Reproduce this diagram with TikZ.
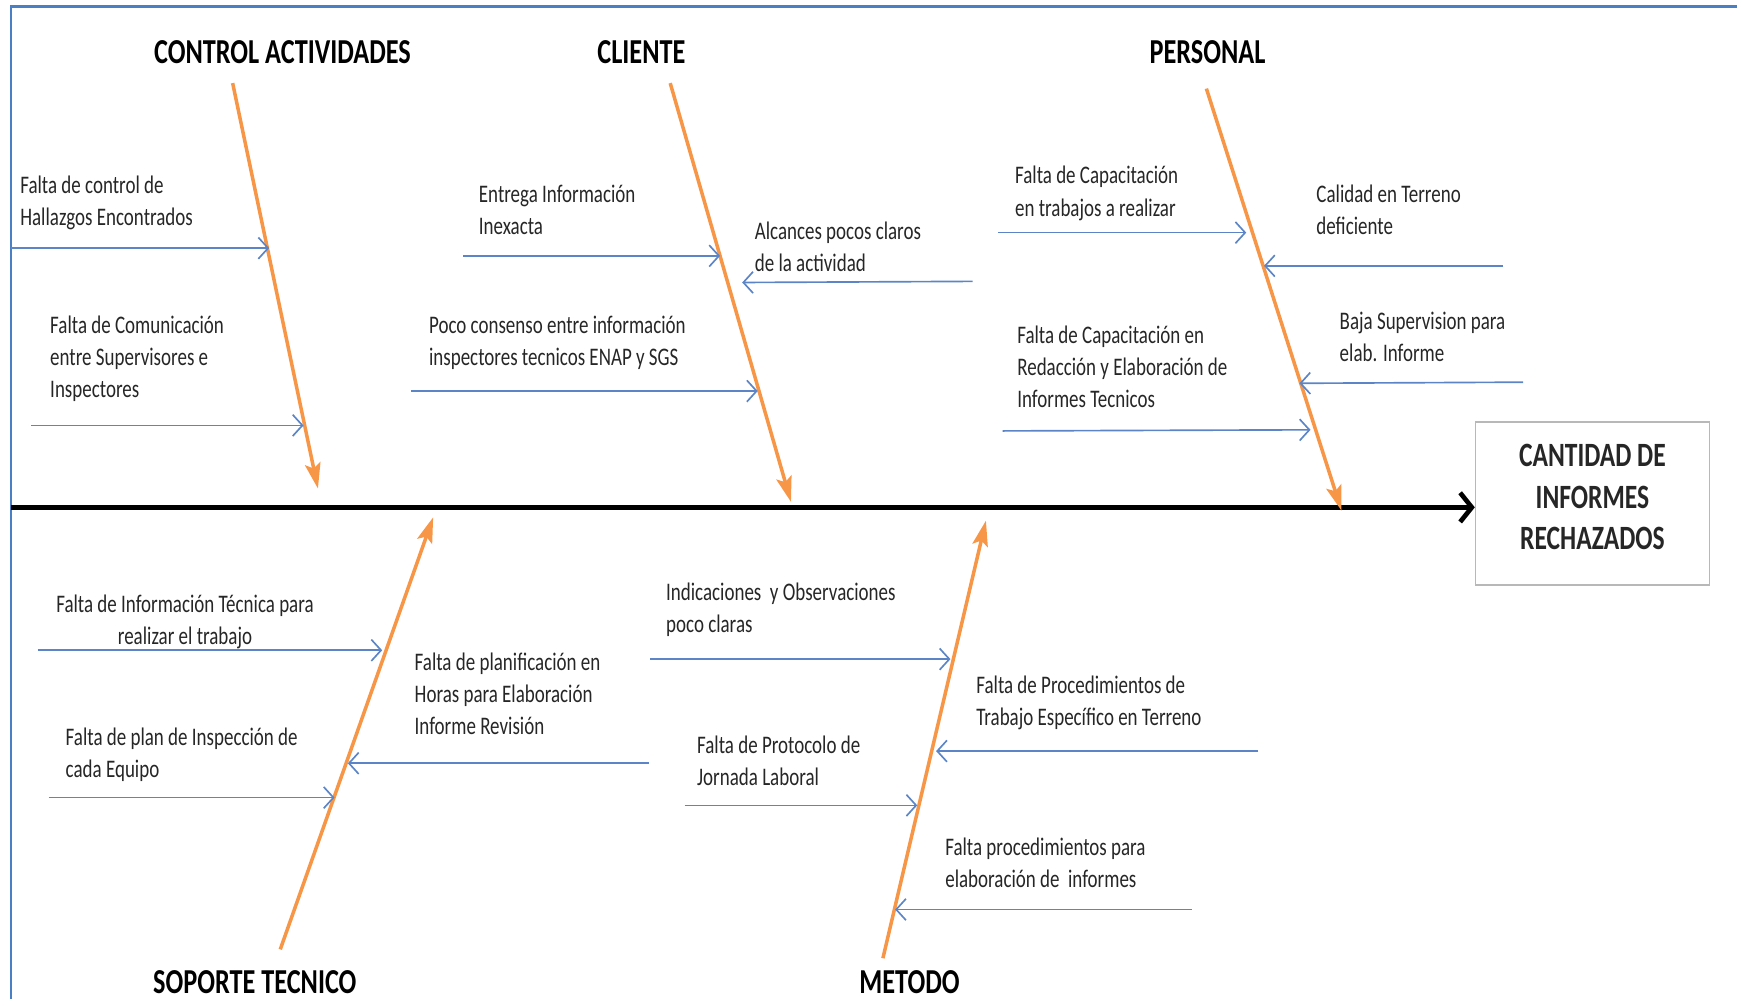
\documentclass[tikz,border=0pt]{standalone}
\usepackage{fontspec}
\setmainfont{Carlito}[FakeStretch=0.75]
\usetikzlibrary{arrows.meta}
\definecolor{bone}{HTML}{F79646}
\definecolor{cause}{HTML}{5B85C6}
\definecolor{frameblue}{HTML}{4A7EC5}
\definecolor{txt}{HTML}{262626}
\tikzset{
  bonearrow/.style={draw=bone, line width=1.8pt, -{Stealth[length=13pt,width=8pt,inset=2.5pt]}},
  causearrow/.style={draw=cause, line width=0.85pt, -{Straight Barb[length=5pt,width=11pt]}},
  spinearrow/.style={draw=black, line width=2.4pt, -{Straight Barb[length=6pt,width=15pt]}},
  lbl/.style={inner sep=0pt, align=left, anchor=base west, text=txt, font=\fontsize{13}{16.5}\selectfont},
  cat/.style={inner sep=0pt, anchor=base, text=black, font=\fontsize{18}{22}\selectfont\bfseries},
  effectbox/.style={draw=black!28, line width=0.8pt, minimum width=4.22cm, minimum height=2.94cm, inner sep=0pt},
  framestyle/.style={draw=frameblue, line width=1.2pt},
}
\begin{document}
\begin{tikzpicture}[x=0.02cm,y=-0.02cm]
\useasboundingbox (0,0) rectangle (1568,902);
% frame
\coordinate (fbl) at (10,902);
\coordinate (ftl) at (10,6);
\coordinate (ftr) at (1568,6);
\draw[framestyle] (fbl) -- (ftl) -- (ftr);

% effect box
\node[effectbox] (effect) at (1437.5,454.5) {};
\node[inner sep=0pt, anchor=base, align=center, font=\fontsize{17.5}{21.3}\selectfont\bfseries, text=txt] (effecttxt) at (1437.5,496) {CANTIDAD DE\\INFORMES\\RECHAZADOS};

% spine
\coordinate (spL) at (10,458);
\draw[spinearrow] (spL) -- (spL -| effect.west);

% category titles
\node[cat] (tCA) at (255,57) {CONTROL ACTIVIDADES};
\node[cat] (tCL) at (579,57) {CLIENTE};
\node[cat] (tPE) at (1090,57) {PERSONAL};
\node[cat] (tST) at (230,897) {SOPORTE TECNICO};
\node[cat] (tME) at (821,897) {METODO};

% bones
\coordinate (bCAs) at (210,75);   \coordinate (bCAe) at (287,441);
\coordinate (bCLs) at (605,75);   \coordinate (bCLe) at (714,453);
\coordinate (bPEs) at (1089,80);  \coordinate (bPEe) at (1211,461);
\coordinate (bSTs) at (253,857);  \coordinate (bSTe) at (391,467);
\coordinate (bMEs) at (797,865);  \coordinate (bMEe) at (890,470);
\draw[bonearrow] (bCAs) -- (bCAe);
\draw[bonearrow] (bCLs) -- (bCLe);
\draw[bonearrow] (bPEs) -- (bPEe);
\draw[bonearrow] (bSTs) -- (bSTe);
\draw[bonearrow] (bMEs) -- (bMEe);

% ---- CONTROL ACTIVIDADES causes
\node[lbl] (l1) at (18,204) {Falta de control de\\Hallazgos Encontrados};
\coordinate (c1s) at (10,224); \coordinate (c1e) at (243,224);
\draw[causearrow] (c1s) -- (c1e);
\node[lbl] (l2) at (45,359) {Falta de Comunicación\\entre Supervisores e\\Inspectores};
\coordinate (c2s) at (28,384); \coordinate (c2e) at (274,384);
\draw[causearrow] (c2s) -- (c2e);

% ---- CLIENTE causes
\node[lbl] (l3) at (432,212) {Entrega Información\\Inexacta};
\coordinate (c3s) at (418,231); \coordinate (c3e) at (650,231);
\draw[causearrow] (c3s) -- (c3e);
\node[lbl] (l4) at (387,330) {Poco consenso entre información\\inspectores tecnicos ENAP y SGS};
\coordinate (c4s) at (371,353); \coordinate (c4e) at (684,353);
\draw[causearrow] (c4s) -- (c4e);
\node[lbl] (l5) at (681,245) {Alcances pocos claros\\de la actividad};
\coordinate (c5s) at (878,254); \coordinate (c5e) at (670,255);
\draw[causearrow] (c5s) -- (c5e);

% ---- PERSONAL causes
\node[lbl] (l6) at (916,195) {Falta de Capacitación\\en trabajos a realizar};
\coordinate (c6s) at (901,210); \coordinate (c6e) at (1125,210);
\draw[causearrow] (c6s) -- (c6e);
\node[lbl] (l7) at (1188,212) {Calidad en Terreno\\deficiente};
\coordinate (c7s) at (1357,240); \coordinate (c7e) at (1141,240);
\draw[causearrow] (c7s) -- (c7e);
\node[lbl] (l8) at (918,368) {Falta de Capacitación en\\Redacción y Elaboración de\\Informes Tecnicos};
\coordinate (c8s) at (905,389); \coordinate (c8e) at (1183,388);
\draw[causearrow] (c8s) -- (c8e);
\node[lbl] (l9) at (1209,326) {Baja Supervision para\\elab. Informe};
\coordinate (c9s) at (1375,345); \coordinate (c9e) at (1173,346);
\draw[causearrow] (c9s) -- (c9e);

% ---- SOPORTE TECNICO causes
\node[lbl, align=center, anchor=base] (l10) at (167,582) {Falta de Información Técnica para\\realizar el trabajo};
\coordinate (c10s) at (34,587); \coordinate (c10e) at (345,587);
\draw[causearrow] (c10s) -- (c10e);
\node[lbl] (l11) at (59,702) {Falta de plan de Inspección de\\cada Equipo};
\coordinate (c11s) at (44,720); \coordinate (c11e) at (302,720);
\draw[causearrow] (c11s) -- (c11e);
\node[lbl] (l12) at (374,663) {Falta de planificación en\\Horas para Elaboración\\Informe Revisión};
\coordinate (c12s) at (586,689); \coordinate (c12e) at (314,689);
\draw[causearrow] (c12s) -- (c12e);

% ---- METODO causes
\node[lbl] (l13) at (601,571) {Indicaciones~ y Observaciones\\poco claras};
\coordinate (c13s) at (587,595); \coordinate (c13e) at (858,595);
\draw[causearrow] (c13s) -- (c13e);
\node[lbl] (l14) at (629,709) {Falta de Protocolo de\\Jornada Laboral};
\coordinate (c14s) at (618,727); \coordinate (c14e) at (828,727);
\draw[causearrow] (c14s) -- (c14e);
\node[lbl] (l15) at (881,655) {Falta de Procedimientos de\\Trabajo Específico en Terreno};
\coordinate (c15s) at (1136,678); \coordinate (c15e) at (845,678);
\draw[causearrow] (c15s) -- (c15e);
\node[lbl] (l16) at (853,801) {Falta procedimientos para\\elaboración de~ informes};
\coordinate (c16s) at (1076,821); \coordinate (c16e) at (808,821);
\draw[causearrow] (c16s) -- (c16e);
\end{tikzpicture}
\end{document}
